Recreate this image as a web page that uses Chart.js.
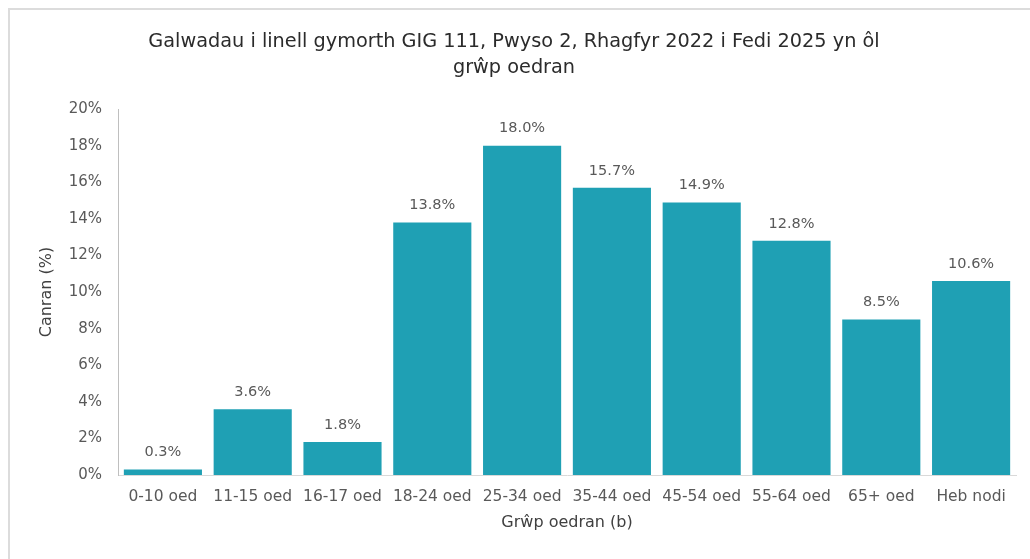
<!DOCTYPE html>
<html>
<head>
<meta charset="utf-8">
<script src="https://cdn.jsdelivr.net/npm/chart.js@4.4.1/dist/chart.umd.min.js"></script>
<style>
  html, body { margin: 0; padding: 0; background: #ffffff; overflow: hidden; }
  #wrap { position: relative; width: 1030px; height: 559px; overflow: hidden; }
  #frame { position: absolute; left: 8px; top: 8px; width: 1060px; height: 600px; border-top: 2px solid #dcdcdc; border-left: 2px solid #dcdcdc; pointer-events: none; }
  canvas { position: absolute; left: 0; top: 0; }
</style>
</head>
<body>
<div id="wrap">
  <canvas id="c" width="1030" height="559"></canvas>
  <div id="frame"></div>
</div>
<script>
const titleLines = ["Galwadau i linell gymorth GIG 111, Pwyso 2, Rhagfyr 2022 i Fedi 2025 yn ôl", "grŵp oedran"];
const categories = ["0-10 oed", "11-15 oed", "16-17 oed", "18-24 oed", "25-34 oed", "35-44 oed", "45-54 oed", "55-64 oed", "65+ oed", "Heb nodi"];
const values = [0.3, 3.6, 1.8, 13.8, 18.0, 15.7, 14.9, 12.8, 8.5, 10.6];
const yTitle = "Canran (%)";
const xTitle = "Grŵp oedran (b)";
const yMax = 20;
const yStep = 2;

const FONT = "'DejaVu Sans', Verdana, sans-serif";

const labelPlugin = {
  id: 'barLabels',
  afterDatasetsDraw(chart) {
    const ctx = chart.ctx;
    const meta = chart.getDatasetMeta(0);
    ctx.save();
    ctx.font = "14.5px " + FONT;
    ctx.fillStyle = "#595959";
    ctx.textAlign = "center";
    ctx.textBaseline = "middle";
    meta.data.forEach((bar, i) => {
      ctx.fillText(values[i].toFixed(1) + "%", bar.x, bar.y - 17);
    });
    ctx.restore();
  }
};

new Chart(document.getElementById('c'), {
  type: 'bar',
  data: {
    labels: categories,
    datasets: [{
      data: values,
      backgroundColor: '#1fa0b4',
      borderWidth: 0,
      barPercentage: 0.87,
      categoryPercentage: 1.0
    }]
  },
  options: {
    responsive: false,
    animation: false,
    layout: { padding: { left: 12, right: 14, top: 29, bottom: 18 } },
    plugins: {
      legend: { display: false },
      tooltip: { enabled: false },
      title: {
        display: true,
        text: titleLines,
        color: '#2b2b2b',
        font: { family: FONT, size: 19.3, weight: 'normal', lineHeight: 1.35 },
        padding: { top: 0, bottom: 28 }
      }
    },
    scales: {
      x: {
        grid: { display: false, drawTicks: false },
        border: { display: true, color: '#d9d9d9', width: 1 },
        ticks: { color: '#595959', font: { family: FONT, size: 15.5 }, padding: 13, maxRotation: 0, autoSkip: false },
        title: { display: true, text: xTitle, color: '#404040', font: { family: FONT, size: 16 }, padding: { top: 4, bottom: 9 } },
        afterFit(scale) { scale.height = 66; }
      },
      y: {
        min: 0, max: yMax,
        grid: { display: false, drawTicks: false },
        border: { display: true, color: '#bfbfbf', width: 1 },
        ticks: { stepSize: yStep, color: '#595959', font: { family: FONT, size: 15 }, padding: 16, callback: v => v + '%' },
        title: { display: true, text: yTitle, color: '#404040', font: { family: FONT, size: 16 }, padding: { top: 25, bottom: 0 } },
        afterFit(scale) { scale.width = 106; }
      }
    }
  },
  plugins: [labelPlugin]
});
</script>
</body>
</html>
